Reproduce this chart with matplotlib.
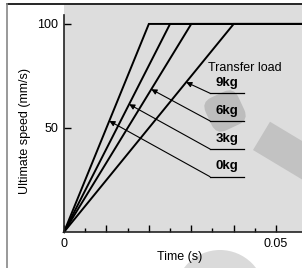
import matplotlib
matplotlib.use('Agg')
import matplotlib.pyplot as plt
from matplotlib.lines import Line2D
from matplotlib.patches import FancyBboxPatch, Rectangle, Circle
from matplotlib.transforms import Affine2D

plt.rcParams['font.family'] = ['Liberation Sans', 'DejaVu Sans']

# Transfer load and time to reach the ultimate speed
loads = ['0kg', '3kg', '6kg', '9kg']
t_reach = [0.020, 0.025, 0.030, 0.040]
v_max = 100

# where the leader arrows touch each line (speed) and where the labels sit
tip_speed = [53.4, 61.4, 68.6, 72.0]
label_speed = [26.6, 39.9, 53.4, 66.7]

W, H = 302, 268
fig = plt.figure(figsize=(W / 100, H / 100), dpi=100)
ax = fig.add_axes([64 / W, (H - 232) / H, 238 / W, 227 / H])
ax.set_facecolor('#dddddd')
x_max = 0.0561
ax.set_xlim(0, x_max)
ax.set_ylim(0, 109.1)

# pixel helper (image coords, y downwards) for the background watermark shapes
pix = Affine2D().scale(1 / W, 1 / H) + fig.transFigure

blob = FancyBboxPatch((225 - 18, H - 111 - 18), 36, 36,
                      boxstyle='round,pad=0,rounding_size=11',
                      transform=Affine2D().rotate_deg_around(225, H - 111, 25) + pix,
                      facecolor='#bdbdbd', edgecolor='none', zorder=0.5)
ax.add_patch(blob)
band = Rectangle((253, H - 150), 110, 33, angle=-31, transform=pix,
                 facecolor='#c2c2c2', edgecolor='none', zorder=0.5)
ax.add_patch(band)
dome = Circle((220, H - 295), 45, transform=pix, facecolor='#dadada',
              edgecolor='none', zorder=0.5)
fig.patches.append(dome)

# speed lines
for t in t_reach:
    ax.plot([0, t, x_max], [0, v_max, v_max], color='black', lw=1.4,
            solid_joinstyle='miter', zorder=2, clip_on=False)

# leaders + labels
x_lab0, x_lab1 = 0.0344, 0.0425
for name, t, vs, vl in zip(loads, t_reach, tip_speed, label_speed):
    ax.annotate('', xy=(t * vs / v_max, vs), xytext=(x_lab0, vl),
                arrowprops=dict(arrowstyle='-|>', color='black', lw=0.8,
                                mutation_scale=8, shrinkA=0, shrinkB=0),
                zorder=3)
    ax.plot([x_lab0, x_lab1], [vl, vl], color='black', lw=0.9, zorder=3)
    ax.text((x_lab0 + x_lab1) / 2, vl + 4.9, name, ha='center', va='center',
            fontsize=9.5, fontweight='bold', zorder=3)
ax.text(0.0339, 78.8, 'Transfer load', ha='left', va='center', fontsize=9, zorder=3)

# axes styling
for s in ['top', 'right']:
    ax.spines[s].set_visible(False)
ax.spines['left'].set_bounds(0, 104.3)
for s in ['left', 'bottom']:
    ax.spines[s].set_linewidth(1.2)
    ax.spines[s].set_color('#222222')
ax.set_xticks([0, 0.01, 0.02, 0.03, 0.04, 0.05])
ax.set_xticklabels(['0', '', '', '', '', '0.05'])
ax.set_xticks([0.005, 0.015, 0.025, 0.035, 0.045], minor=True)
ax.set_yticks([50, 100])
ax.set_yticklabels(['50', '100'])
ax.tick_params(direction='in', labelsize=9, width=1, length=5, pad=4)
ax.tick_params(axis='x', which='minor', direction='in', length=3, width=1)

fig.text(25 / W, 1 - 131 / H, 'Ultimate speed (mm/s)', rotation=90,
         ha='center', va='center', fontsize=9)
fig.text(179.5 / W, 1 - 257 / H, 'Time (s)', ha='center', va='center', fontsize=9)

# outer frame
fig.add_artist(Line2D([7 / W, 1], [1 - 4 / H, 1 - 4 / H], color='black', lw=1.2))
fig.add_artist(Line2D([7 / W, 7 / W], [0, 1 - 4 / H], color='#888888', lw=1.2))

fig.savefig('out.png', dpi=100)
